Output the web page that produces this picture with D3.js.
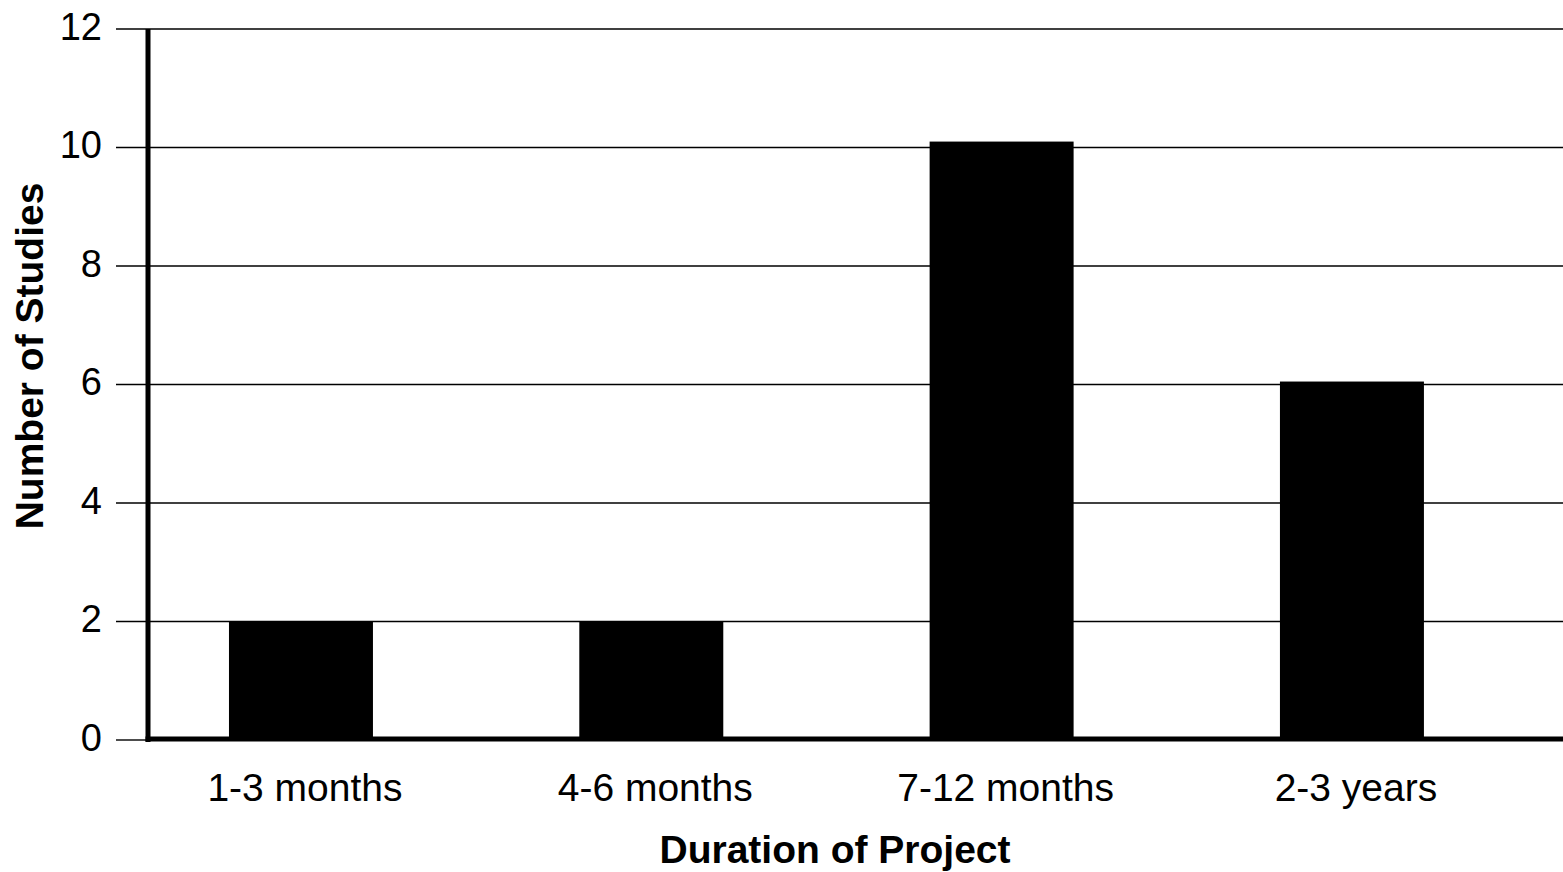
<!DOCTYPE html>
<html>
<head>
<meta charset="utf-8">
<script src="https://cdn.jsdelivr.net/npm/d3@7"></script>
<style>
  body { margin: 0; background: #fff; }
  text { font-family: "Liberation Sans", Arial, sans-serif; fill: #000; }
</style>
</head>
<body>
<div id="chart"></div>
<script>
var categories = ["1-3 months", "4-6 months", "7-12 months", "2-3 years"];
var studies = [2, 2, 10.1, 6.05];
var yTicks = [0, 2, 4, 6, 8, 10, 12];

(function() {
    var W = 1563, H = 872;
    var svg = d3.select("#chart").append("svg")
        .attr("width", W).attr("height", H);

    var x = d3.scaleBand()
        .domain(categories)
        .range([125.8, 1527.1])
        .paddingInner(0.589)
        .paddingOuter(0.2945);

    var y = d3.scaleLinear().domain([0, 12]).range([740, 29]);

    // gridlines + ticks
    svg.append("g").selectAll("line")
        .data(yTicks.slice(1))
        .enter().append("line")
        .attr("x1", 116).attr("x2", W)
        .attr("y1", function(d) { return y(d); })
        .attr("y2", function(d) { return y(d); })
        .style("stroke", "#000").style("stroke-width", 1.4);

    svg.append("line")
        .attr("x1", 116).attr("x2", 148)
        .attr("y1", y(0)).attr("y2", y(0))
        .style("stroke", "#000").style("stroke-width", 1.4);

    svg.append("g").selectAll("text")
        .data(yTicks)
        .enter().append("text")
        .attr("x", 102)
        .attr("y", function(d) { return y(d) - 3; })
        .attr("dy", "0.36em")
        .attr("text-anchor", "end")
        .style("font-size", "38px")
        .text(function(d) { return d; });

    // bars
    svg.append("g").selectAll("rect")
        .data(studies)
        .enter().append("rect")
        .attr("x", function(d, i) { return x(categories[i]); })
        .attr("width", x.bandwidth())
        .attr("y", function(d) { return y(d); })
        .attr("height", function(d) { return y(0) - y(d); })
        .attr("fill", "#000");

    // axis lines
    svg.append("line")
        .attr("x1", 148).attr("x2", 148)
        .attr("y1", y(12)).attr("y2", 742)
        .style("stroke", "#000").style("stroke-width", 5);
    svg.append("line")
        .attr("x1", 145.5).attr("x2", W)
        .attr("y1", 739).attr("y2", 739)
        .style("stroke", "#000").style("stroke-width", 5);

    // category labels
    svg.append("g").selectAll("text")
        .data(categories)
        .enter().append("text")
        .attr("x", function(d) { return x(d) + x.bandwidth() / 2 + 4; })
        .attr("y", 801)
        .attr("text-anchor", "middle")
        .style("font-size", "39px")
        .text(function(d) { return d; });

    // axis titles
    svg.append("text")
        .attr("x", 835).attr("y", 863)
        .attr("text-anchor", "middle")
        .style("font-size", "39px").style("font-weight", "bold")
        .text("Duration of Project");

    svg.append("text")
        .attr("transform", "translate(43,356) rotate(-90)")
        .attr("text-anchor", "middle")
        .style("font-size", "39px").style("font-weight", "bold")
        .text("Number of Studies");
})();
</script>
</body>
</html>
